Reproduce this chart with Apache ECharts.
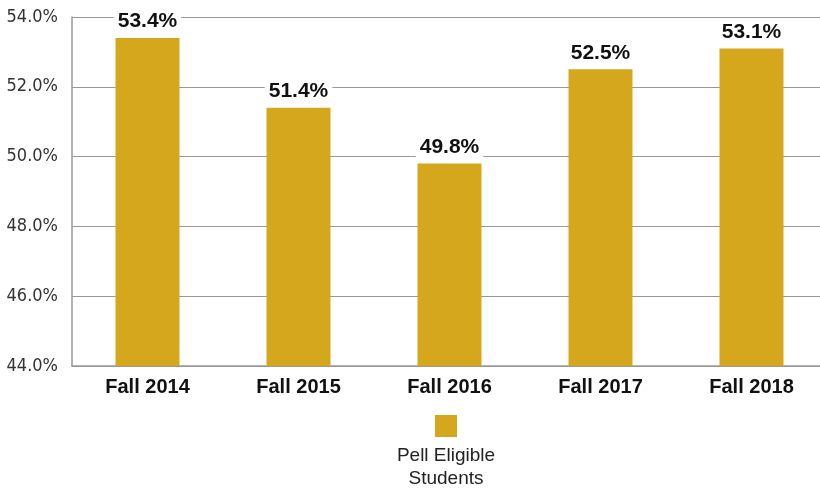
<!DOCTYPE html>
<html>
<head>
<meta charset="utf-8">
<script src="https://cdn.jsdelivr.net/npm/echarts@6/dist/echarts.min.js"></script>
<style>
  html, body { margin: 0; padding: 0; background: #fff; }
  #chart { width: 820px; height: 488px; }
</style>
</head>
<body>
<div id="chart"></div>
<script>
/* 数据 */
var categories = ['Fall 2014', 'Fall 2015', 'Fall 2016', 'Fall 2017', 'Fall 2018'];
var pellValues = [53.4, 51.4, 49.8, 52.5, 53.1];
var seriesName = 'Pell Eligible Students';

var narrow = '"DejaVu Sans Condensed", "Liberation Sans Narrow", sans-serif';
var barColor = '#D5A71D';

var myChart = echarts.init(document.getElementById('chart'));
var option = {
    animation: false,
    backgroundColor: '#fff',
    grid: {
        left: 72,
        right: -7, // 原图绘图区略超出右边缘
        top: 17,
        bottom: 122,
        outerBoundsMode: 'none'
    },
    legend: {
        data: [seriesName],
        top: 415,
        left: 435,
        padding: 0,
        icon: 'rect',
        itemWidth: 22,
        itemHeight: 22,
        itemGap: 0,
        formatter: function () { return ''; }, // 文字单独放在图例下方
        textStyle: { padding: 0, width: 0 },
        selectedMode: false
    },
    title: {
        text: 'Pell Eligible\nStudents',
        left: 446,
        textAlign: 'center',
        top: 444,
        padding: 0,
        textStyle: {
            fontFamily: '"Liberation Sans", sans-serif',
            fontWeight: 'normal',
            fontSize: 19,
            color: '#222',
            lineHeight: 23
        }
    },
    xAxis: {
        type: 'category',
        data: categories,
        axisTick: { show: false },
        axisLine: { lineStyle: { color: '#999', width: 1.5 } },
        axisLabel: {
            margin: 11,
            fontFamily: '"Liberation Sans", sans-serif',
            fontWeight: 'bold',
            fontSize: 20,
            color: '#111'
        }
    },
    yAxis: {
        type: 'value',
        min: 44,
        max: 54,
        interval: 2,
        axisLine: { show: true, lineStyle: { color: '#999', width: 1.5 } },
        axisTick: { show: false },
        splitLine: { lineStyle: { color: '#999', width: 1.2 } },
        axisLabel: {
            margin: 14,
            fontFamily: narrow,
            fontSize: 18,
            color: '#333',
            formatter: function (v) { return v.toFixed(1) + '%'; }
        }
    },
    series: [{
        name: seriesName,
        type: 'bar',
        data: pellValues,
        barWidth: 64,
        itemStyle: { color: barColor },
        label: {
            show: true,
            position: 'top',
            distance: 4,
            fontFamily: '"Liberation Sans", sans-serif',
            fontWeight: 'bold',
            fontSize: 21,
            color: '#111',
            backgroundColor: '#fff',
            padding: [2, 4, 2, 4],
            formatter: function (p) { return p.value.toFixed(1) + '%'; }
        }
    }]
};
myChart.setOption(option);
</script>
</body>
</html>
